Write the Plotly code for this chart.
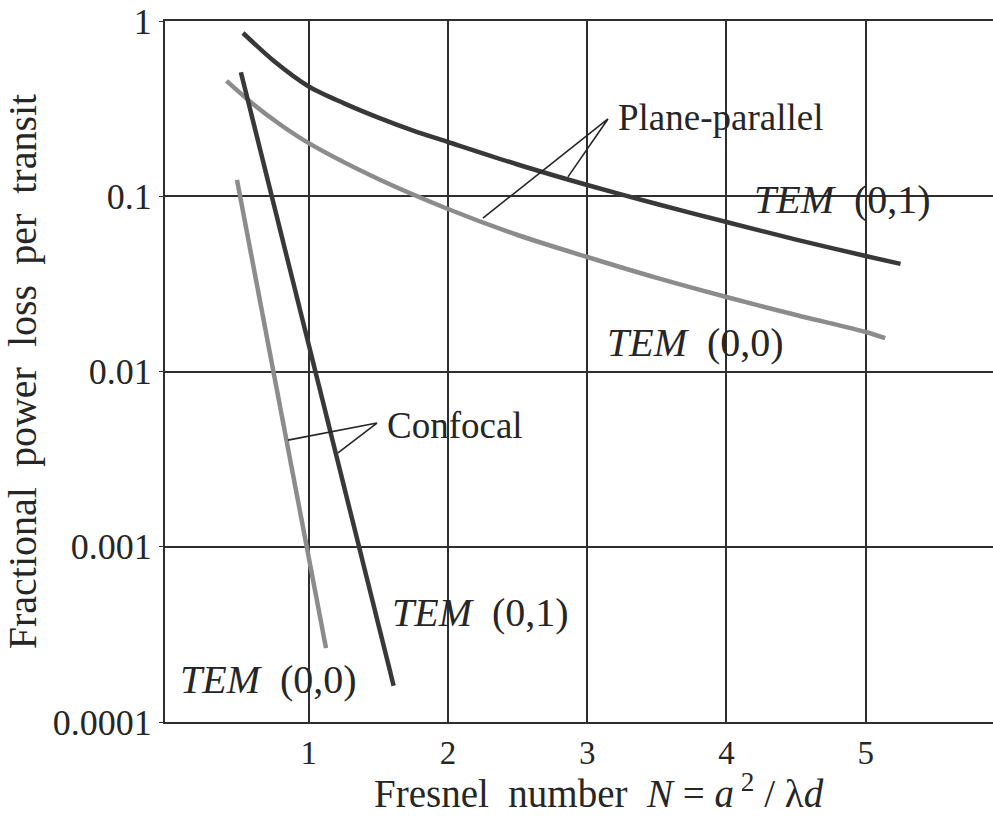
import numpy as np
import plotly.graph_objects as go

# ---- data ----
# Plane-parallel resonator
pp01_x = [0.528, 0.75, 1.0, 1.25, 1.5, 1.75, 2.0, 2.5, 3.0, 3.5, 4.0, 4.5, 5.0, 5.25]
pp01_y = [0.854, 0.591, 0.423, 0.340, 0.281, 0.237, 0.204, 0.1518, 0.1159, 0.0903,
          0.0713, 0.0566, 0.0456, 0.0411]
pp00_x = [0.41, 0.6, 0.8, 1.0, 1.5, 2.0, 2.5, 3.0, 3.5, 4.0, 4.5, 5.0, 5.14]
pp00_y = [0.455, 0.336, 0.255, 0.201, 0.1254, 0.0846, 0.0601, 0.045, 0.0342, 0.0266,
          0.0210, 0.0168, 0.0155]
# Confocal resonator
cf01_x = [0.513, 1.036, 1.61]
cf01_y = [0.51, 0.011, 0.000161]
cf00_x = [0.485, 0.74, 0.99, 1.124]
cf00_y = [0.124, 0.0107, 0.00096, 0.000264]

# leader lines (curve <- apex -> curve)
pp_lead_x = [2.862, 3.149, 2.251]
pp_lead_y = [0.129, 0.276, 0.0751]
cf_lead_x = [0.851, 1.490, 1.210]
cf_lead_y = [0.00406, 0.00508, 0.00343]

x_ticks = [1, 2, 3, 4, 5]
y_ticks = [0.0001, 0.001, 0.01, 0.1, 1]
y_ticklabels = ["0.0001", "0.001", "0.01", "0.1", "1"]

labels = ["Plane-parallel", "<i>TEM</i>\u00a0\u00a0(0,1)", "<i>TEM</i>\u00a0\u00a0(0,0)",
          "Confocal", "<i>TEM</i>\u00a0\u00a0(0,1)", "<i>TEM</i>\u00a0\u00a0(0,0)"]
label_size = [37, 40, 40, 37, 40, 40]
label_x = [3.21, 4.18, 3.13, 1.548, 1.583, 0.061]
label_y = [0.28, 0.0953, 0.01456, 0.00495, 0.000419, 0.000174]

x_title = ("Fresnel\u00a0\u00a0number\u00a0\u00a0<i>N</i>\u00a0=\u00a0<i>a</i>"
           "<sup>\u00a02</sup>\u00a0/\u00a0λ<i>d</i>")
y_title = "Fractional\u00a0 power\u00a0 loss\u00a0 per\u00a0 transit"

DARK = "#383838"
GREY = "#8c8c8c"
INK = "#262626"
FONT = "Liberation Serif"

fig = go.Figure()
fig.add_trace(go.Scatter(x=pp01_x, y=pp01_y, mode="lines",
                         line=dict(color=DARK, width=4.5, shape="spline", smoothing=0.8)))
fig.add_trace(go.Scatter(x=pp00_x, y=pp00_y, mode="lines",
                         line=dict(color=GREY, width=4.5, shape="spline", smoothing=0.8)))
fig.add_trace(go.Scatter(x=cf01_x, y=cf01_y, mode="lines", line=dict(color=DARK, width=4.5)))
fig.add_trace(go.Scatter(x=cf00_x, y=cf00_y, mode="lines", line=dict(color=GREY, width=4.5)))
fig.add_trace(go.Scatter(x=pp_lead_x, y=pp_lead_y, mode="lines", line=dict(color=INK, width=1.6)))
fig.add_trace(go.Scatter(x=cf_lead_x, y=cf_lead_y, mode="lines", line=dict(color=INK, width=1.6)))

for t, s, lx, ly in zip(labels, label_size, label_x, label_y):
    fig.add_annotation(x=lx, y=np.log10(ly), xref="x", yref="y", text=t, showarrow=False,
                       xanchor="left", yanchor="middle",
                       font=dict(family=FONT, size=s, color=INK))

# x-axis title placed as a paper annotation (centered slightly right of plot centre)
fig.add_annotation(x=0.524, y=-0.1355, xref="paper", yref="paper", text=x_title,
                   showarrow=False, xanchor="center", yanchor="bottom",
                   font=dict(family=FONT, size=39, color=INK))

fig.update_layout(
    width=993, height=819,
    margin=dict(l=165, r=0, t=21, b=97),
    paper_bgcolor="white", plot_bgcolor="white",
    showlegend=False,
    font=dict(family=FONT, color=INK),
)
fig.update_xaxes(
    range=[-0.032, 5.914], tickvals=x_ticks, ticktext=[str(v) for v in x_ticks],
    showgrid=True, gridcolor="#2e2e2e", gridwidth=2,
    showline=True, linecolor="#2e2e2e", linewidth=2, mirror=True,
    zeroline=False, ticks="", tickfont=dict(family=FONT, size=33, color=INK),
)
fig.update_yaxes(
    type="log", range=[-4, 0], tickvals=y_ticks, ticktext=y_ticklabels,
    showgrid=True, gridcolor="#2e2e2e", gridwidth=2,
    showline=True, linecolor="#2e2e2e", linewidth=2, mirror=False,
    zeroline=False, ticks="outside", ticklen=4, tickcolor="#2e2e2e",
    tickfont=dict(family=FONT, size=36, color=INK),
    title=dict(text=y_title, font=dict(family=FONT, size=40, color=INK), standoff=10),
)

fig.write_html("out.html")
